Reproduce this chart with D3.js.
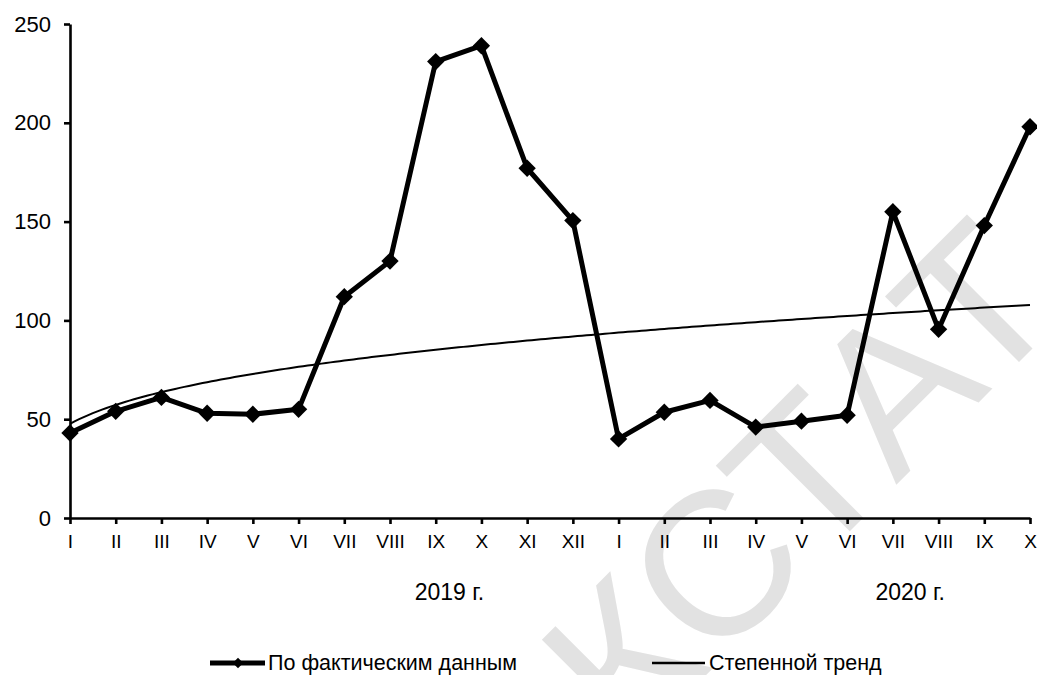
<!DOCTYPE html>
<html><head><meta charset="utf-8">
<script src="https://cdn.jsdelivr.net/npm/d3@7"></script>
<style>
body{margin:0;background:#fff}
svg{display:block}
text{font-family:"Liberation Sans",Arial,Helvetica,sans-serif;fill:#000}
</style>
</head><body>
<svg id="chart" width="1037" height="675"></svg>
<script>
// ---- data ----
const months = ["I","II","III","IV","V","VI","VII","VIII","IX","X","XI","XII",
                "I","II","III","IV","V","VI","VII","VIII","IX","X"];
const yearLabels = ["2019 г.","2020 г."];
const yearLabelIndex = [8.3, 18.38];
const actual = [43,54,61,53,52.5,55,112,130,231,239,177,150.5,
                40,53.5,59.5,46,49,52,155,95.5,148,198];
const yTicks = [0,50,100,150,200,250];
const seriesNames = ["По фактическим данным","Степенной тренд"];
const watermark = "КСТАТ";

// ---- layout ----
const L = 70, R = 1030, T = 24, B = 518;
const svg = d3.select("#chart");

// watermark (behind the chart)
svg.append("text")
  .attr("transform","translate(1070,311) rotate(-45)")
  .attr("text-anchor","end")
  .style("font-size","205px")
  .style("fill","#e2e2e2")
  .text(watermark);

const x = d3.scaleLinear().domain([0, months.length-1]).range([L, R]);
const y = d3.scaleLinear().domain([0, 250]).range([B, T]);

// power trend (least squares in log-log space, as Excel computes it)
const n = actual.length;
let sx=0, sy=0, sxx=0, sxy=0;
actual.forEach((v,i)=>{const lx=Math.log(i+1), ly=Math.log(v); sx+=lx; sy+=ly; sxx+=lx*lx; sxy+=lx*ly;});
const b = (n*sxy - sx*sy)/(n*sxx - sx*sx);
const a = Math.exp((sy - b*sx)/n);
const trendPts = d3.range(0, n-1+0.001, 0.1).map(t => [t, a*Math.pow(t+1, b)]);

// axes
const xAxis = d3.axisBottom(x).tickValues(d3.range(n)).tickFormat(i=>months[i])
  .tickSize(6).tickSizeOuter(0).tickPadding(11);
const gx = svg.append("g").attr("transform",`translate(0,${B})`).call(xAxis);
gx.select(".domain").attr("stroke","#000").attr("stroke-width",2.6);
gx.selectAll(".tick line").attr("stroke","#000").attr("stroke-width",2.6);
gx.selectAll(".tick text").style("font-size","19px");

const yAxis = d3.axisLeft(y).tickValues(yTicks).tickSize(6).tickSizeOuter(0).tickPadding(13);
const gy = svg.append("g").attr("transform",`translate(${L},0)`).call(yAxis);
gy.select(".domain").attr("stroke","#000").attr("stroke-width",2.6);
gy.selectAll(".tick line").attr("stroke","#000").attr("stroke-width",2.6);
gy.selectAll(".tick text").style("font-size","22px");

// year labels
svg.selectAll(".year").data(yearLabels).join("text")
  .attr("class","year")
  .attr("x",(d,i)=>x(yearLabelIndex[i]))
  .attr("y",600)
  .attr("text-anchor","middle")
  .style("font-size","23px")
  .text(d=>d);

// trend line
svg.append("path").datum(trendPts)
  .attr("fill","none").attr("stroke","#000").attr("stroke-width",2)
  .attr("d", d3.line().x(d=>x(d[0])).y(d=>y(d[1])));

// actual line
svg.append("path").datum(actual)
  .attr("fill","none").attr("stroke","#000").attr("stroke-width",5)
  .attr("stroke-linejoin","round")
  .attr("d", d3.line().x((d,i)=>x(i)).y(d=>y(d)));

const diamond = d3.symbol().type(d3.symbolSquare).size(150);
svg.selectAll(".pt").data(actual).join("path")
  .attr("class","pt")
  .attr("transform",(d,i)=>`translate(${x(i)},${y(d)}) rotate(45)`)
  .attr("d", diamond).attr("fill","#000");

// legend
const lg = svg.append("g");
lg.append("line").attr("x1",210).attr("x2",265).attr("y1",663).attr("y2",663)
  .attr("stroke","#000").attr("stroke-width",5);
lg.append("path").attr("transform","translate(238,663) rotate(45)")
  .attr("d", d3.symbol().type(d3.symbolSquare).size(55)).attr("fill","#000");
lg.append("text").attr("x",268).attr("y",670).style("font-size","21.5px").text(seriesNames[0]);
lg.append("line").attr("x1",652).attr("x2",705).attr("y1",663).attr("y2",663)
  .attr("stroke","#000").attr("stroke-width",2.5);
lg.append("text").attr("x",709).attr("y",670).style("font-size","21.5px").text(seriesNames[1]);
</script>
</body></html>
